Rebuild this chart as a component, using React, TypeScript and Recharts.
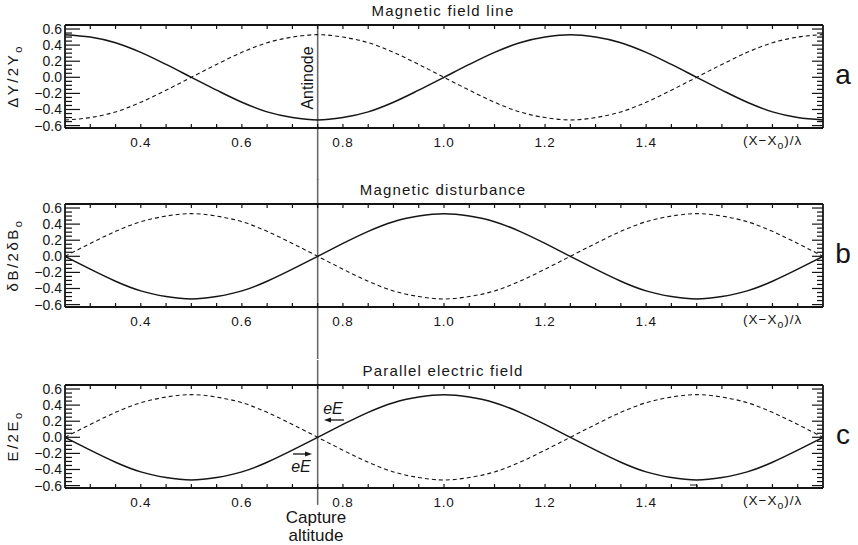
import { LineChart, Line, XAxis, YAxis, ReferenceLine } from "recharts";

// sample positions (X - X0)/lambda, read every 0.05
const xValues = [
  0.25, 0.3, 0.35, 0.4, 0.45, 0.5, 0.55, 0.6, 0.65, 0.7, 0.75, 0.8, 0.85, 0.9, 0.95, 1.0,
  1.05, 1.1, 1.15, 1.2, 1.25, 1.3, 1.35, 1.4, 1.45, 1.5, 1.55, 1.6, 1.65, 1.7, 1.75,
];

// a: magnetic field line
const fieldSolid = [
  0.53, 0.5, 0.43, 0.31, 0.16, 0, -0.16, -0.31, -0.43, -0.5, -0.53, -0.5, -0.43, -0.31, -0.16, 0,
  0.16, 0.31, 0.43, 0.5, 0.53, 0.5, 0.43, 0.31, 0.16, 0, -0.16, -0.31, -0.43, -0.5, -0.53,
];
const fieldDashed = [
  -0.53, -0.5, -0.43, -0.31, -0.16, 0, 0.16, 0.31, 0.43, 0.5, 0.53, 0.5, 0.43, 0.31, 0.16, 0,
  -0.16, -0.31, -0.43, -0.5, -0.53, -0.5, -0.43, -0.31, -0.16, 0, 0.16, 0.31, 0.43, 0.5, 0.53,
];

// b: magnetic disturbance
const disturbanceSolid = [
  0, -0.16, -0.31, -0.43, -0.5, -0.53, -0.5, -0.43, -0.31, -0.16, 0, 0.16, 0.31, 0.43, 0.5, 0.53,
  0.5, 0.43, 0.31, 0.16, 0, -0.16, -0.31, -0.43, -0.5, -0.53, -0.5, -0.43, -0.31, -0.16, 0,
];
const disturbanceDashed = [
  0, 0.16, 0.31, 0.43, 0.5, 0.53, 0.5, 0.43, 0.31, 0.16, 0, -0.16, -0.31, -0.43, -0.5, -0.53,
  -0.5, -0.43, -0.31, -0.16, 0, 0.16, 0.31, 0.43, 0.5, 0.53, 0.5, 0.43, 0.31, 0.16, 0,
];

// c: parallel electric field
const electricSolid = [
  0, -0.16, -0.31, -0.43, -0.5, -0.53, -0.5, -0.43, -0.31, -0.16, 0, 0.16, 0.31, 0.43, 0.5, 0.53,
  0.5, 0.43, 0.31, 0.16, 0, -0.16, -0.31, -0.43, -0.5, -0.53, -0.5, -0.43, -0.31, -0.16, 0,
];
const electricDashed = [
  0, 0.16, 0.31, 0.43, 0.5, 0.53, 0.5, 0.43, 0.31, 0.16, 0, -0.16, -0.31, -0.43, -0.5, -0.53,
  -0.5, -0.43, -0.31, -0.16, 0, 0.16, 0.31, 0.43, 0.5, 0.53, 0.5, 0.43, 0.31, 0.16, 0,
];

// ticks
const xTicks = [
  0.3, 0.35, 0.4, 0.45, 0.5, 0.55, 0.6, 0.65, 0.7, 0.75, 0.8, 0.85, 0.9, 0.95, 1.0, 1.05,
  1.1, 1.15, 1.2, 1.25, 1.3, 1.35, 1.4, 1.45, 1.5, 1.55, 1.6, 1.65, 1.7,
];
const xTickLabels = [0.4, 0.6, 0.8, 1.0, 1.2, 1.4];
const yTicks = [
  -0.6, -0.55, -0.5, -0.45, -0.4, -0.35, -0.3, -0.25, -0.2, -0.15, -0.1, -0.05, 0, 0.05, 0.1,
  0.15, 0.2, 0.25, 0.3, 0.35, 0.4, 0.45, 0.5, 0.55, 0.6,
];
const yTickLabels = [-0.6, -0.4, -0.2, 0, 0.2, 0.4, 0.6];

const FONT = '"Liberation Sans", Arial, sans-serif';
const INK = "#151515";
const GUIDE = "#6a6a6a";
const X_DOMAIN: [number, number] = [0.25, 1.75];
const Y_DOMAIN: [number, number] = [-0.63, 0.65];

// plot box inside each 858x180 panel
const CHART_W = 858;
const CHART_H = 180;
const BOX = { left: 65, right: 823, top: 25, bottom: 128 };
const Y_AXIS_W = 40;

const near = (a: number, list: number[]) => list.some((v) => Math.abs(v - a) < 1e-6);
const fmt = (v: number) => (v < -1e-9 ? "\u2212" : "") + Math.abs(v).toFixed(1);

const leftLabel = (p: any) => (
  <text x={Number(p.x) - 3} y={Number(p.y) + 5} textAnchor="end" fontFamily={FONT} fontSize={14} fill={INK}>
    {fmt(Number(p.payload.value))}
  </text>
);

const bottomLabel = (p: any) => (
  <text x={Number(p.x)} y={Number(p.y) + 19} textAnchor="middle" fontFamily={FONT} fontSize={13.5} letterSpacing={0.8} fill={INK}>
    {fmt(Number(p.payload.value))}
  </text>
);

const frame = { stroke: INK, strokeWidth: 1.8 };

function Panel(props: {
  top: number;
  solid: number[];
  dashed: number[];
  curve: "monotone" | "natural";
  guideTop: number;
  guideBottom: number;
}) {
  const data = xValues.map((x, i) => ({ x, solid: props.solid[i], dashed: props.dashed[i] }));
  return (
    <div style={{ position: "absolute", left: 0, top: props.top, zIndex: 1 }}>
      <LineChart
        width={CHART_W}
        height={CHART_H}
        data={data}
        margin={{ top: BOX.top - 1, right: CHART_W - BOX.right - 1, bottom: 0, left: BOX.left - Y_AXIS_W }}
      >
        <XAxis
          xAxisId="b"
          dataKey="x"
          type="number"
          domain={X_DOMAIN}
          allowDataOverflow
          ticks={xTickLabels}
          interval={0}
          tickSize={0}
          tickMargin={0}
          tickLine={false}
          tick={bottomLabel}
          axisLine={frame}
          height={CHART_H - BOX.bottom}
        />
        <XAxis
          xAxisId="t"
          orientation="top"
          dataKey="x"
          type="number"
          domain={X_DOMAIN}
          allowDataOverflow
          tick={false}
          tickLine={false}
          axisLine={frame}
          height={1}
        />
        <YAxis
          yAxisId="l"
          type="number"
          domain={Y_DOMAIN}
          allowDataOverflow
          ticks={yTickLabels}
          interval={0}
          tickSize={0}
          tickMargin={0}
          tickLine={false}
          tick={leftLabel}
          axisLine={frame}
          width={Y_AXIS_W}
        />
        <YAxis
          yAxisId="r"
          orientation="right"
          type="number"
          domain={Y_DOMAIN}
          allowDataOverflow
          tick={false}
          tickLine={false}
          axisLine={frame}
          width={1}
        />
        <ReferenceLine
          xAxisId="b"
          yAxisId="l"
          segment={[
            { x: 0.75, y: props.guideTop },
            { x: 0.75, y: props.guideBottom },
          ]}
          ifOverflow="visible"
          stroke={GUIDE}
          strokeWidth={1.6}
        />
        <Line
          xAxisId="b"
          yAxisId="l"
          dataKey="dashed"
          type={props.curve}
          stroke={INK}
          strokeWidth={1.1}
          strokeDasharray="4 3"
          dot={false}
          isAnimationActive={false}
        />
        <Line
          xAxisId="b"
          yAxisId="l"
          dataKey="solid"
          type={props.curve}
          stroke={INK}
          strokeWidth={1.5}
          dot={false}
          isAnimationActive={false}
        />
      </LineChart>
    </div>
  );
}

const panelTops = [0, 179, 360];
const titles = ["Magnetic field line", "Magnetic disturbance", "Parallel electric field"];
const letters = ["a", "b", "c"];
const yTitles = ["\u0394Y/2Y", "\u03B4B/2\u03B4B", "E/2E"];

// inward tick marks on all four sides of a panel box, drawn as thin filled bars
function BoxTicks({ t }: { t: number }) {
  const sx = (v: number) => BOX.left + ((v - X_DOMAIN[0]) / (X_DOMAIN[1] - X_DOMAIN[0])) * (BOX.right - BOX.left);
  const sy = (v: number) => t + BOX.top + ((Y_DOMAIN[1] - v) / (Y_DOMAIN[1] - Y_DOMAIN[0])) * (BOX.bottom - BOX.top);
  const marks: any[] = [];
  yTicks.forEach((v, k) => {
    const major = near(v, yTickLabels);
    const y = sy(v) - 0.6;
    marks.push(<rect key={`l${k}`} x={BOX.left} y={y} width={major ? 15 : 7} height={1.2} />);
    marks.push(<rect key={`r${k}`} x={BOX.right - (major ? 11 : 6)} y={y} width={major ? 11 : 6} height={1.2} />);
  });
  xTicks.forEach((v, k) => {
    const x = sx(v) - 0.6;
    marks.push(<rect key={`b${k}`} x={x} y={t + BOX.bottom - 4} width={1.2} height={4} />);
    marks.push(<rect key={`t${k}`} x={x} y={t + BOX.top} width={1.2} height={4} />);
  });
  return <g fill={INK}>{marks}</g>;
}

function Overlay() {
  return (
    <svg
      width={858}
      height={545}
      style={{ position: "absolute", left: 0, top: 0, pointerEvents: "none", zIndex: 5 }}
    >
      {panelTops.map((t, i) => (
        <g key={i}>
          <BoxTicks t={t} />
          <text x={443} y={t + 16} textAnchor="middle" fontFamily={FONT} fontSize={15} letterSpacing={1.2} fill={INK}>
            {titles[i]}
          </text>
          <text
            transform={`translate(18 ${t + 76}) rotate(-90)`}
            textAnchor="middle"
            fontFamily={FONT}
            fontSize={15}
            letterSpacing={2.5}
            fill={INK}
          >
            {yTitles[i]}
            <tspan fontSize={11} dy={4}>
              o
            </tspan>
          </text>
          <text x={843} y={t + 84} textAnchor="middle" fontFamily={FONT} fontSize={28} fill={INK}>
            {letters[i]}
          </text>
          <text x={743} y={t + 145} fontFamily={FONT} fontSize={13.5} letterSpacing={1} fill={INK}>
            (X{"\u2212"}X
            <tspan fontSize={10.5} dy={4}>
              o
            </tspan>
            <tspan dy={-4}>){"/\u03BB"}</tspan>
          </text>
        </g>
      ))}
      <text
        transform="translate(313 78) rotate(-90)"
        textAnchor="middle"
        fontFamily={FONT}
        fontSize={16}
        fill={INK}
      >
        Antinode
      </text>
      {/* eE annotations in panel c */}
      <text x={333} y={414} textAnchor="middle" fontFamily={FONT} fontSize={16} fontStyle="italic" fill={INK}>
        eE
      </text>
      <line x1={328} x2={344} y1={420} y2={420} stroke={INK} strokeWidth={1.3} />
      <path d="M324 420 L331 417.5 L331 422.5 Z" fill={INK} />
      <line x1={293} x2={308} y1={454} y2={454} stroke={INK} strokeWidth={1.3} />
      <path d="M312 454 L305 451.5 L305 456.5 Z" fill={INK} />
      <text x={301} y={472} textAnchor="middle" fontFamily={FONT} fontSize={16} fontStyle="italic" fill={INK}>
        eE
      </text>
      <path d="M690 485 L697 485 L697 488" fill="none" stroke={INK} strokeWidth={1} />
      <text x={316} y={523} textAnchor="middle" fontFamily={FONT} fontSize={17} fill={INK}>
        Capture
      </text>
      <text x={316} y={541} textAnchor="middle" fontFamily={FONT} fontSize={17} fill={INK}>
        altitude
      </text>
    </svg>
  );
}

export default function App() {
  return (
    <div style={{ position: "absolute", left: 0, top: 0, width: 858, height: 545, background: "#fff" }}>
      <Panel top={panelTops[0]} solid={fieldSolid} dashed={fieldDashed} curve="monotone" guideTop={0.65} guideBottom={-1.3} />
      <Panel top={panelTops[1]} solid={disturbanceSolid} dashed={disturbanceDashed} curve="natural" guideTop={0.97} guideBottom={-1.3} />
      <Panel top={panelTops[2]} solid={electricSolid} dashed={electricDashed} curve="natural" guideTop={0.97} guideBottom={-0.84} />
      <Overlay />
    </div>
  );
}
